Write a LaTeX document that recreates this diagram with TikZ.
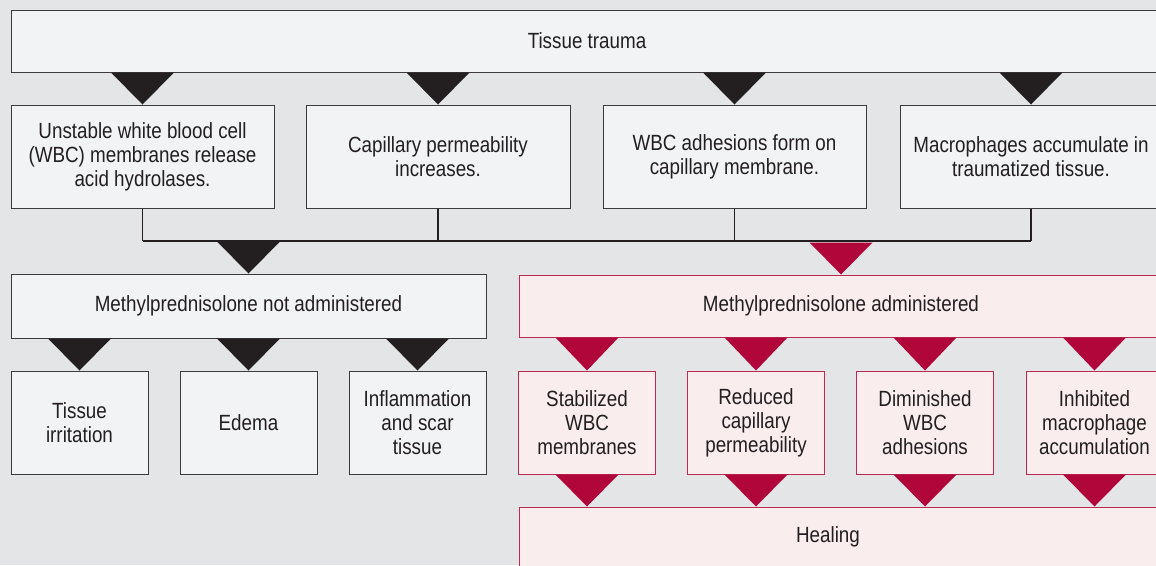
\documentclass[tikz,border=0pt]{standalone}
\usepackage{fontspec}
\setmainfont{Liberation Sans}[FakeStretch=0.855]
\usetikzlibrary{calc}
\definecolor{bg}{HTML}{E4E5E7}
\definecolor{boxfill}{HTML}{F2F3F5}
\definecolor{boxline}{HTML}{3C3A3B}
\definecolor{ink}{HTML}{231F20}
\definecolor{crimson}{HTML}{B0063A}
\definecolor{pinkfill}{HTML}{F9EDEE}
\definecolor{pinkline}{HTML}{BA2A52}
\newcommand{\labelfont}{\fontsize{22}{24}\selectfont}
\tikzset{
  gbox/.style={draw=boxline, line width=1pt, fill=boxfill, inner sep=0pt,
    align=center, text=ink, font=\labelfont},
  pbox/.style={gbox, draw=pinkline, fill=pinkfill},
  caption/.style={font=\labelfont, text=ink},
  bus/.style={draw=ink, line width=1.6pt},
}
% triangular pointer: #1 = node above, #2 = node below, #3 = colour
\newcommand{\pointer}[3]{%
  \fill[#3] ($(#2.north |- #1.south)+(-31.5,0)$) -- ($(#2.north |- #1.south)+(31.5,0)$) -- (#2.north) -- cycle;}
\begin{document}
\begin{tikzpicture}[x=1pt, y=-1pt]
\useasboundingbox (0,0) rectangle (1156,565);
\clip (0,0) rectangle (1156,565);
\fill[bg] (0,0) rectangle (1156,565);

% top level
\node[gbox, minimum width=1152, minimum height=62] (trauma) at (587,41) {Tissue trauma};

% effects of the trauma
\node[gbox, minimum width=263, minimum height=103] (wbc)   at (142.5,156.5) {Unstable white blood cell\\(WBC) membranes release\\acid hydrolases.};
\node[gbox, minimum width=264, minimum height=103] (cap)   at (438,156.5) {Capillary permeability\\increases.};
\node[gbox, minimum width=263, minimum height=103] (adh)   at (734.5,156.5) {WBC adhesions form on\\capillary membrane.};
\node[gbox, minimum width=262, minimum height=103] (macro) at (1031,156.5) {Macrophages accumulate in\\traumatized tissue.};

\foreach \n in {wbc,cap,adh,macro}{\pointer{trauma}{\n}{ink}}

% collecting bus
\coordinate (busL) at (142.5,241);
\coordinate (busR) at (1031,241);
\draw[bus] (busL) -- (busR);
\foreach \n in {wbc,cap,adh,macro}{\draw[bus] (\n.south) -- (\n.south |- busL);}

% treatment branches
\node[gbox, minimum width=475, minimum height=64] (nomp) at (248.5,306) {};
\node[caption] at (248.5,306) {Methylprednisolone not administered};
\node[pbox, minimum width=644, minimum height=62] (mp) at (841,306) {};
\node[caption] at (841,306) {Methylprednisolone administered};

\fill[ink] ($(nomp.north)+(-31.5,-32)$) -- ($(nomp.north)+(31.5,-32)$) -- (nomp.north) -- cycle;
\fill[crimson] ($(mp.north)+(-31.5,-32)$) -- ($(mp.north)+(31.5,-32)$) -- (mp.north) -- cycle;

% outcomes without treatment
\node[gbox, minimum width=137, minimum height=103] (irr)   at (79.5,422.5) {Tissue\\irritation};
\node[gbox, minimum width=137, minimum height=103] (edema) at (248.5,422.5) {Edema};
\node[gbox, minimum width=137, minimum height=103] (infl)  at (417.5,422.5) {Inflammation\\and scar\\tissue};
\foreach \n in {irr,edema,infl}{\pointer{nomp}{\n}{ink}}

% outcomes with treatment
\node[pbox, minimum width=137, minimum height=103] (stab) at (587,422.5) {Stabilized\\WBC\\membranes};
\node[pbox, minimum width=137, minimum height=103] (red)  at (756,422.5) {Reduced\\capillary\\permeability};
\node[pbox, minimum width=137, minimum height=103] (dim)  at (925,422.5) {Diminished\\WBC\\adhesions};
\node[pbox, minimum width=137, minimum height=103] (inh)  at (1094.5,422.5) {Inhibited\\macrophage\\accumulation};
\foreach \n in {stab,red,dim,inh}{\pointer{mp}{\n}{crimson}}

% healing
\node[pbox, minimum width=644, minimum height=64] (heal) at (841,539) {};
\node[caption] at (828,537) {Healing};
\foreach \n in {stab,red,dim,inh}{%
  \fill[crimson] ($(\n.south)+(-31.5,0)$) -- ($(\n.south)+(31.5,0)$) -- (\n.south |- heal.north) -- cycle;}
\end{tikzpicture}
\end{document}
